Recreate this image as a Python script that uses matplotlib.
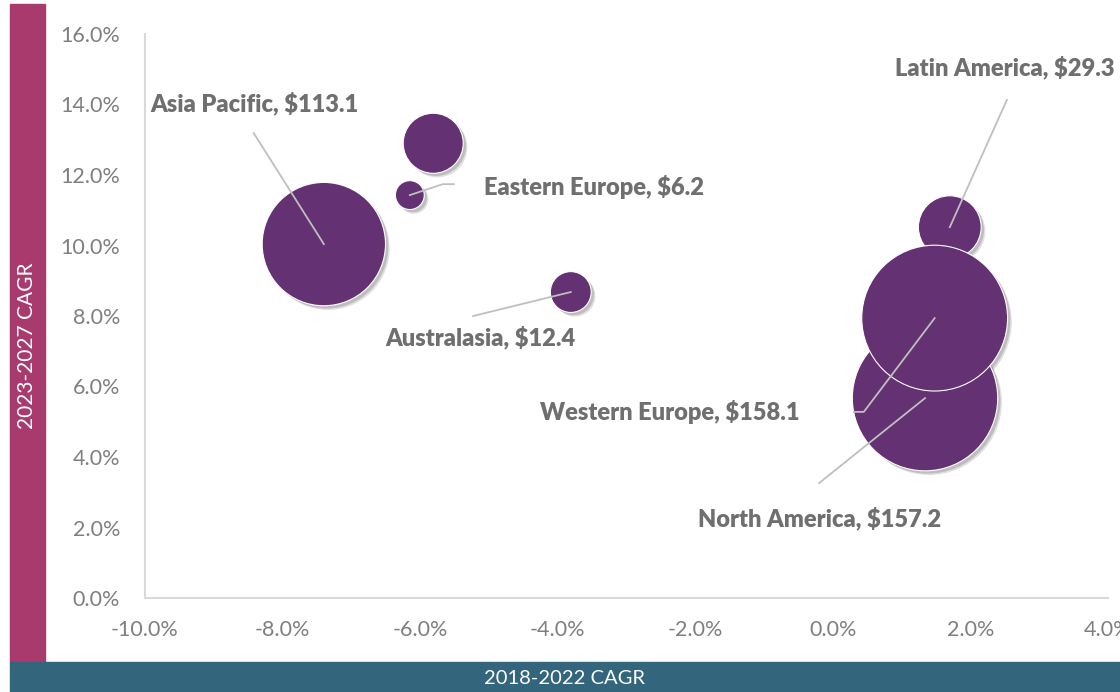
import matplotlib.pyplot as plt
from matplotlib.transforms import offset_copy
from matplotlib.patches import Rectangle

# data: market size ($) by region, CAGR values in percent
regions = ['Asia Pacific', 'Middle East & Africa', 'Eastern Europe', 'Australasia',
           'Latin America', 'North America', 'Western Europe']
cagr_2018_2022 = [-7.40, -5.81, -6.15, -3.81, 1.70, 1.34, 1.48]
cagr_2023_2027 = [10.04, 12.90, 11.43, 8.68, 10.52, 5.67, 7.94]
market_size = [113.1, 26.8, 6.2, 12.4, 29.3, 157.2, 158.1]
show_label = [True, False, True, True, True, True, True]

x_ticks = [-10, -8, -6, -4, -2, 0, 2, 4]
y_ticks = [0, 2, 4, 6, 8, 10, 12, 14, 16]

# label placement (text anchor, alignment, leader-line points before the bubble centre)
label_layout = {
    'Asia Pacific': ((-9.93, 14.04), 'left', [(-8.42, 13.19)]),
    'Eastern Europe': ((-5.07, 11.66), 'left', [(-5.51, 11.74), (-5.67, 11.74)]),
    'Australasia': ((-5.13, 7.40), 'center', [(-5.23, 8.00)]),
    'Latin America': ((0.90, 15.04), 'left', [(2.53, 14.13)]),
    'Western Europe': ((-2.37, 5.28), 'center', [(0.305, 5.28), (0.45, 5.28)]),
    'North America': ((-0.20, 2.27), 'center', [(-0.20, 3.26)]),
}

BUBBLE = '#643172'
GRID_GREY = '#D9D9D9'
TEXT_GREY = '#7F7F7F'
LABEL_GREY = '#6F6F6F'
MAGENTA = '#A83A6E'
TEAL = '#33657D'

plt.rcParams['font.family'] = ['Lato', 'DejaVu Sans']

fig = plt.figure(figsize=(11.2, 6.92), dpi=100)
fig.patch.set_facecolor('white')

# coloured side / bottom bands
fig.patches.append(Rectangle((10 / 1120, 30 / 692), 35 / 1120, 658 / 692,
                             transform=fig.transFigure, color=MAGENTA, zorder=0))
fig.patches.append(Rectangle((10 / 1120, 0), 1110 / 1120, 30 / 692,
                             transform=fig.transFigure, color=TEAL, zorder=0))
fig.text(27 / 1120, 1 - 346 / 692, '2023-2027 CAGR', rotation=90, color='white',
         fontsize=15, ha='center', va='center')
fig.text(565 / 1120, 1 - 678 / 692, '2018-2022 CAGR', color='white',
         fontsize=14.5, ha='center', va='center')

ax = fig.add_axes([145 / 1120, 1 - 598 / 692, 963 / 1120, 564 / 692])
ax.set_xlim(-10, 4)
ax.set_ylim(0, 16)

sizes = [v * 69.7 for v in market_size]

# soft drop shadow
for off, alpha in [(3.0, 0.18), (2.0, 0.25)]:
    shadow_tr = offset_copy(ax.transData, fig=fig, x=off, y=-off, units='points')
    ax.scatter(cagr_2018_2022, cagr_2023_2027, s=sizes, color='#555555',
               alpha=alpha, linewidths=0, transform=shadow_tr, zorder=2)

ax.scatter(cagr_2018_2022, cagr_2023_2027, s=sizes, color=BUBBLE,
           edgecolors='white', linewidths=0.8, zorder=3)

for name, x, y, show in zip(regions, cagr_2018_2022, cagr_2023_2027, show_label):
    if not show:
        continue
    i = regions.index(name)
    (tx, ty), ha, pts = label_layout[name]
    xs = [p[0] for p in pts] + [x]
    ys = [p[1] for p in pts] + [y]
    ax.plot(xs, ys, color='#BFBFBF', lw=1.3, zorder=4)
    ax.text(tx, ty, f'{name}, ${market_size[i]:.1f}', ha=ha, va='center',
            fontsize=17, fontweight='heavy', color=LABEL_GREY, zorder=5,
            clip_on=False)

ax.set_xticks(x_ticks)
ax.set_xticklabels([f'{t:.1f}%' for t in x_ticks])
ax.set_yticks(y_ticks)
ax.set_yticklabels([f'{t:.1f}%' for t in y_ticks])
ax.tick_params(length=0, labelsize=15.5, labelcolor=TEXT_GREY)
ax.tick_params(axis='y', pad=18)
ax.tick_params(axis='x', pad=16)

for side in ['top', 'right']:
    ax.spines[side].set_visible(False)
for side in ['left', 'bottom']:
    ax.spines[side].set_color(GRID_GREY)
    ax.spines[side].set_linewidth(1.5)

fig.savefig('out.png', dpi=100, facecolor='white')
